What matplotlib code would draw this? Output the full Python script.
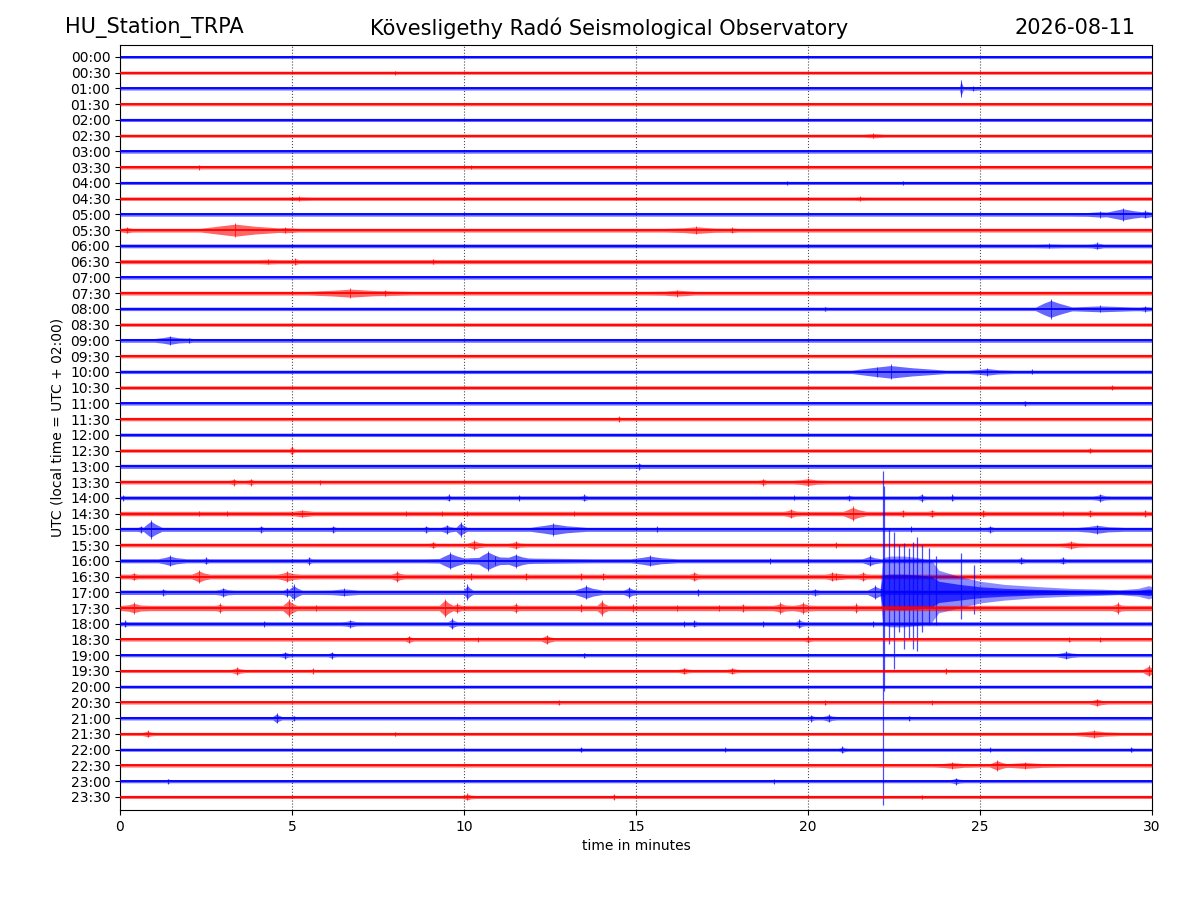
import numpy as np
import matplotlib
matplotlib.use('Agg')
import matplotlib.pyplot as plt

station = 'HU_Station_TRPA'
observatory = 'Kövesligethy Radó Seismological Observatory'
day = '2026-08-11'

# one trace per half hour
labels = [f'{h:02d}:{m:02d}' for h in range(24) for m in (0, 30)]

# background noise half-amplitude of each trace (in trace units)
noise = [0.09, 0.10, 0.10, 0.10, 0.10, 0.10, 0.11, 0.11, 0.10, 0.11, 0.11, 0.12,
         0.12, 0.13, 0.11, 0.12, 0.11, 0.11, 0.12, 0.11, 0.11, 0.11, 0.11, 0.11,
         0.11, 0.11, 0.13, 0.12, 0.12, 0.14, 0.13, 0.12, 0.13, 0.15, 0.14, 0.17,
         0.13, 0.10, 0.10, 0.10, 0.10, 0.10, 0.11, 0.10, 0.10, 0.10, 0.10, 0.10]

# bursts: (trace, minute, half width in min, amplitude)
bursts = [
    (1, 8.0, 0.1, 0.14),
    (2, 24.45, 0.04, 0.55), (2, 24.8, 0.5, 0.15),
    (5, 21.9, 0.7, 0.16),
    (7, 2.3, 0.15, 0.15), (7, 10.2, 0.1, 0.14),
    (8, 19.4, 0.1, 0.14), (8, 22.75, 0.1, 0.14),
    (9, 5.2, 1.5, 0.15), (9, 21.5, 0.7, 0.15),
    (10, 28.5, 0.8, 0.20), (10, 29.15, 0.5, 0.42), (10, 29.8, 0.3, 0.25),
    (11, 0.2, 0.3, 0.20), (11, 3.35, 0.9, 0.45), (11, 4.8, 0.7, 0.20),
    (11, 16.75, 0.8, 0.25), (11, 17.8, 0.4, 0.18),
    (12, 27.0, 2.0, 0.16), (12, 28.4, 0.3, 0.22),
    (13, 4.3, 1.2, 0.18), (13, 5.1, 0.15, 0.22), (13, 9.1, 0.3, 0.18),
    (15, 6.7, 1.1, 0.30), (15, 7.7, 0.5, 0.20), (15, 16.2, 0.8, 0.22),
    (16, 20.5, 0.3, 0.15), (16, 27.06, 0.4, 0.63), (16, 28.5, 1.5, 0.22),
    (16, 29.8, 0.4, 0.18),
    (18, 1.45, 0.4, 0.30), (18, 2.0, 0.3, 0.18),
    (20, 22.4, 1.0, 0.47), (20, 22.0, 0.6, 0.30), (20, 25.2, 0.5, 0.25),
    (20, 26.5, 0.15, 0.15),
    (21, 28.85, 0.35, 0.15),
    (22, 26.3, 0.15, 0.17),
    (23, 14.5, 0.15, 0.17),
    (25, 4.99, 0.06, 0.30), (25, 28.2, 0.2, 0.17),
    (26, 15.1, 0.1, 0.22),
    (27, 3.3, 0.15, 0.22), (27, 3.8, 0.15, 0.22), (27, 5.8, 0.1, 0.16),
    (27, 18.7, 0.15, 0.22), (27, 20.0, 0.4, 0.25),
    (28, 0.1, 0.1, 0.18), (28, 9.55, 0.1, 0.22), (28, 11.6, 0.1, 0.18),
    (28, 13.5, 0.15, 0.22), (28, 19.6, 0.15, 0.16), (28, 21.2, 0.3, 0.18),
    (28, 23.3, 0.1, 0.25), (28, 24.2, 0.08, 0.22), (28, 28.5, 0.2, 0.25),
    (29, 2.3, 0.15, 0.18), (29, 3.1, 0.15, 0.18), (29, 5.3, 0.5, 0.25),
    (29, 8.3, 0.2, 0.18), (29, 9.35, 0.1, 0.18), (29, 10.1, 0.1, 0.18),
    (29, 13.2, 0.15, 0.18), (29, 19.5, 0.2, 0.30), (29, 21.3, 0.25, 0.45),
    (29, 22.75, 0.2, 0.22), (29, 23.6, 0.15, 0.25), (29, 25.1, 0.15, 0.22),
    (29, 27.4, 0.2, 0.18), (29, 28.2, 0.2, 0.22), (29, 29.8, 0.15, 0.22),
    (30, 0.6, 0.15, 0.22), (30, 0.9, 0.2, 0.60), (30, 4.1, 0.15, 0.22),
    (30, 6.2, 0.15, 0.22), (30, 8.9, 0.15, 0.22), (30, 9.5, 0.15, 0.30),
    (30, 9.9, 0.12, 0.47), (30, 12.6, 0.6, 0.40), (30, 15.6, 0.15, 0.18),
    (30, 23.0, 0.1, 0.18), (30, 25.3, 0.2, 0.22), (30, 28.4, 0.5, 0.30),
    (31, 9.1, 0.15, 0.22), (31, 10.3, 0.2, 0.30), (31, 11.5, 0.2, 0.25),
    (31, 20.8, 0.1, 0.18), (31, 27.65, 0.3, 0.25),
    (32, 1.45, 0.3, 0.35), (32, 2.5, 0.15, 0.22), (32, 5.5, 0.1, 0.25),
    (32, 10.9, 1.8, 0.30), (32, 9.6, 0.3, 0.55), (32, 10.7, 0.3, 0.65),
    (32, 11.5, 0.3, 0.45), (32, 15.4, 0.5, 0.35), (32, 18.9, 0.1, 0.18),
    (32, 20.0, 0.1, 0.18), (32, 21.8, 0.2, 0.35), (32, 26.2, 0.2, 0.22),
    (32, 27.4, 0.2, 0.22),
    (33, 0.4, 0.2, 0.25), (33, 2.3, 0.2, 0.42), (33, 4.85, 0.25, 0.35),
    (33, 8.05, 0.15, 0.35), (33, 10.2, 0.2, 0.22), (33, 11.8, 0.2, 0.22),
    (33, 13.4, 0.15, 0.22), (33, 14.05, 0.2, 0.22), (33, 16.7, 0.15, 0.30),
    (33, 20.8, 0.6, 0.25), (33, 20.7, 0.2, 0.30), (33, 21.6, 0.15, 0.30),
    (34, 1.26, 0.2, 0.22), (34, 3.0, 0.2, 0.30), (34, 4.85, 0.1, 0.30),
    (34, 5.05, 0.15, 0.50), (34, 6.5, 0.7, 0.25), (34, 10.1, 0.1, 0.50),
    (34, 13.55, 0.3, 0.45), (34, 14.8, 0.15, 0.35), (34, 16.8, 0.1, 0.22),
    (34, 20.2, 0.3, 0.22), (34, 21.95, 0.2, 0.45),
    (35, 0.4, 0.3, 0.35), (35, 2.9, 0.15, 0.30), (35, 4.9, 0.15, 0.57),
    (35, 5.7, 0.15, 0.22), (35, 9.45, 0.15, 0.60), (35, 9.8, 0.2, 0.30),
    (35, 11.5, 0.15, 0.30), (35, 13.4, 0.15, 0.25), (35, 14.0, 0.12, 0.50),
    (35, 14.9, 0.1, 0.25), (35, 16.2, 0.15, 0.22), (35, 17.4, 0.15, 0.22),
    (35, 18.1, 0.2, 0.25), (35, 19.2, 0.2, 0.35), (35, 19.85, 0.25, 0.35),
    (35, 21.4, 0.1, 0.30), (35, 29.0, 0.15, 0.35),
    (36, 0.15, 0.1, 0.22), (36, 4.2, 0.15, 0.18), (36, 6.7, 0.25, 0.25),
    (36, 9.65, 0.1, 0.35), (36, 16.4, 0.1, 0.18), (36, 16.7, 0.15, 0.22),
    (36, 18.7, 0.15, 0.18), (36, 19.75, 0.1, 0.30), (36, 21.9, 0.15, 0.18),
    (37, 8.4, 0.1, 0.25), (37, 10.4, 0.1, 0.15), (37, 12.4, 0.15, 0.30),
    (37, 20.0, 0.1, 0.22), (37, 27.6, 0.1, 0.17), (37, 28.5, 0.1, 0.17),
    (38, 4.8, 0.15, 0.22), (38, 6.15, 0.1, 0.22), (38, 13.5, 0.1, 0.17),
    (38, 27.5, 0.25, 0.25),
    (39, 3.4, 0.15, 0.25), (39, 5.6, 0.1, 0.17), (39, 16.4, 0.15, 0.22),
    (39, 17.8, 0.15, 0.22), (39, 24.0, 0.1, 0.17), (39, 29.9, 0.15, 0.35),
    (41, 12.75, 0.1, 0.17), (41, 20.5, 0.1, 0.17), (41, 23.6, 0.1, 0.15),
    (41, 28.4, 0.2, 0.25),
    (42, 4.55, 0.1, 0.33), (42, 5.05, 0.15, 0.17), (42, 20.1, 0.1, 0.22),
    (42, 20.6, 0.15, 0.25), (42, 22.95, 0.1, 0.17),
    (43, 0.8, 0.15, 0.22), (43, 8.0, 0.1, 0.15), (43, 28.3, 0.5, 0.25),
    (44, 13.4, 0.1, 0.17), (44, 17.6, 0.1, 0.15), (44, 21.0, 0.1, 0.22),
    (44, 25.3, 0.1, 0.15), (44, 29.4, 0.1, 0.17),
    (45, 24.2, 0.5, 0.22), (45, 25.5, 0.2, 0.35), (45, 26.3, 0.8, 0.22),
    (46, 1.4, 0.1, 0.17), (46, 19.0, 0.1, 0.15), (46, 24.3, 0.15, 0.22),
    (47, 10.1, 0.15, 0.22), (47, 14.35, 0.1, 0.17), (47, 23.3, 0.1, 0.15),
]

# the earthquake on the 17:00 trace
event_trace = 34
event_env_t = [22.1, 22.17, 22.4, 22.8, 23.2, 23.6, 23.8, 24.4, 25.0, 25.7,
               26.6, 27.6, 28.5, 29.05, 29.6, 29.9, 30.0]
event_env_up = [0.3, 2.2, 2.3, 2.3, 2.2, 2.0, 1.4, 1.0, 0.7, 0.5,
                0.37, 0.25, 0.2, 0.15, 0.25, 0.42, 0.35]
event_env_down = [0.3, 2.1, 2.2, 2.2, 2.1, 1.9, 1.3, 1.0, 0.68, 0.5,
                  0.35, 0.25, 0.2, 0.15, 0.25, 0.42, 0.35]
spike_t = [22.17, 22.21, 22.36, 22.5, 22.65, 22.8, 22.93, 23.04, 23.16,
           23.31, 23.53, 23.72, 24.45, 24.84]
spike_up = [7.73, 6.76, 4.0, 3.8, 3.0, 3.1, 2.8, 3.2, 3.5, 3.0, 2.8, 2.3, 2.5, 1.7]
spike_down = [13.5, 6.3, 3.3, 4.9, 2.5, 3.6, 3.0, 3.6, 3.7, 2.5, 2.1, 2.1, 1.7, 1.4]

colors = ['blue', 'red']

fig = plt.figure(figsize=(12, 9), dpi=100)
ax = fig.add_axes([0.1, 0.1, 0.86, 0.85])

grid = np.linspace(0, 30, 6001)
for i, lab in enumerate(labels):
    c = colors[i % 2]
    z = 2 + i
    n = noise[i]
    env = np.full_like(grid, n)
    peaks_t, peaks_a = [], []
    for tr, t, w, a in bursts:
        if tr == i:
            w = w * 1.6
            shape = np.interp(grid, [t - 0.7 * w, t - 0.3 * w, t, t + 0.4 * w, t + w],
                              [n, 0.6 * a, 0.85 * a, 0.55 * a, n])
            env = np.maximum(env, shape)
            peaks_t.append(t)
            peaks_a.append(a)
    ax.fill_between(grid, i - env, i + env, color=c, lw=0, alpha=0.6, zorder=z)
    ax.plot([0, 30], [i, i], color=c, lw=1.3, zorder=z)
    if peaks_t:
        ax.vlines(peaks_t, [i - a for a in peaks_a], [i + a for a in peaks_a],
                  color=c, lw=0.7, alpha=0.7, zorder=z)
    if i == event_trace:
        sel = grid >= event_env_t[0]
        up = np.interp(grid[sel], event_env_t, event_env_up)
        down = np.interp(grid[sel], event_env_t, event_env_down)
        ax.fill_between(grid[sel], i - up, i + down, color=c, lw=0, alpha=0.45, zorder=z)
        ax.fill_between(grid[sel], i - 0.5 * up, i + 0.5 * down, color=c, lw=0,
                        alpha=0.7, zorder=z)
        ax.vlines(spike_t, [i - u for u in spike_up], [i + d for d in spike_down],
                  color=c, lw=0.9, alpha=0.7, zorder=z)

ax.set_xlim(0, 30)
ax.set_ylim(47.83, -0.76)
ax.set_xticks(range(0, 31, 5))
ax.set_yticks(range(len(labels)))
ax.set_yticklabels(labels)
ax.grid(axis='x', color='0.3', linestyle=':', lw=0.8)
ax.set_xlabel('time in minutes')
ax.set_ylabel('UTC (local time = UTC + 02:00)')

fig.text(0.054, 0.969, station, fontsize=15, ha='left', va='center')
fig.text(0.5075, 0.969, observatory, fontsize=15, ha='center', va='center')
fig.text(0.946, 0.969, day, fontsize=15, ha='right', va='center')

fig.savefig('out.png', dpi=100)
